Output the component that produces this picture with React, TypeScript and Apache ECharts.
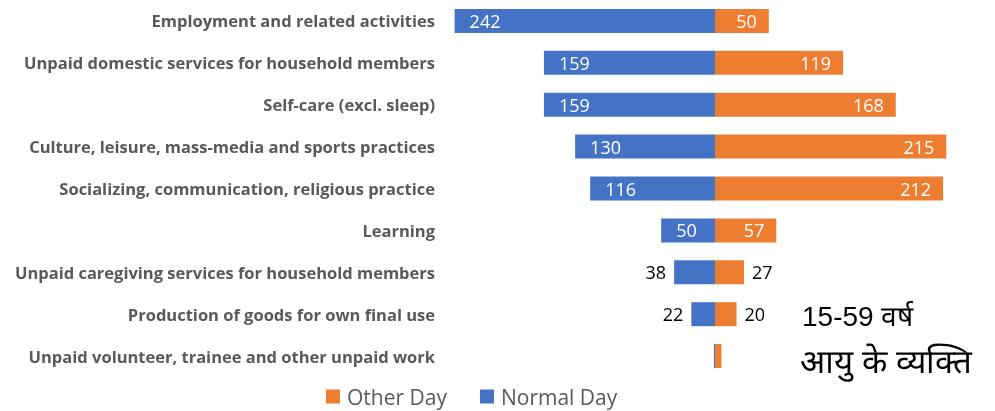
import React, { useEffect, useRef } from "react";
import * as echarts from "echarts";

const categories = [
  "Employment and related activities",
  "Unpaid domestic services for household members",
  "Self-care (excl. sleep)",
  "Culture, leisure, mass-media and sports practices",
  "Socializing, communication, religious practice",
  "Learning",
  "Unpaid caregiving services for household members",
  "Production of goods for own final use",
  "Unpaid volunteer, trainee and other unpaid work",
];
const normalDay = [242, 159, 159, 130, 116, 50, 38, 22, 1];
const otherDay = [50, 119, 168, 215, 212, 57, 27, 20, 6];
const annotationLines = ["15-59 वर्ष", "आयु के व्यक्ति"];

const BLUE = "#4472C4";
const ORANGE = "#ED7D31";
const FONT = "'Open Sans', 'Noto Sans', sans-serif";

export default function App() {
  const ref = useRef<HTMLDivElement>(null);
  useEffect(() => {
    if (!ref.current) return;
    const chart = echarts.init(ref.current, null, { renderer: "svg" });
    const mkData = (vals: number[], neg: boolean) =>
      vals.map((v) => {
        const small = v < 45;
        const hidden = v < 10;
        return {
          value: neg ? -v : v,
          label: {
            show: !hidden,
            position: small ? (neg ? "left" : "right") : neg ? "insideLeft" : "insideRight",
            distance: small ? 8 : neg ? 15 : 12,
            color: small ? "#000000" : "#ffffff",
          },
        };
      });
    chart.setOption({
      animation: false,
      textStyle: { fontFamily: FONT },
      grid: { left: 446, right: 11, top: -2, bottom: 34, containLabel: false },
      legend: {
        data: ["Other Day", "Normal Day"],
        left: 326,
        top: 386,
        padding: 0,
        itemWidth: 14,
        itemHeight: 14,
        itemGap: 33,
        icon: "rect",
        textStyle: { color: "#595959", fontSize: 21, fontFamily: FONT, padding: [0, 0, 0, 2] },
      },
      xAxis: {
        type: "value",
        min: -250,
        max: 250,
        show: false,
      },
      yAxis: {
        type: "category",
        data: categories,
        inverse: true,
        axisLine: { show: false },
        axisTick: { show: false },
        axisLabel: {
          color: "#595959",
          fontWeight: "bold",
          fontSize: 16.5,
          fontFamily: FONT,
          margin: 11,
        },
      },
      series: [
        {
          name: "Normal Day",
          type: "bar",
          stack: "total",
          barWidth: 24,
          itemStyle: { color: BLUE },
          label: {
            fontSize: 18,
            fontFamily: FONT,
            formatter: (p: any) => String(Math.abs(p.value)),
          },
          data: mkData(normalDay, true),
        },
        {
          name: "Other Day",
          type: "bar",
          stack: "total",
          barWidth: 24,
          itemStyle: { color: ORANGE },
          label: {
            fontSize: 18,
            fontFamily: FONT,
            formatter: (p: any) => String(Math.abs(p.value)),
          },
          data: mkData(otherDay, false),
        },
      ],
      graphic: [
        {
          type: "text",
          left: 802,
          top: 302,
          style: {
            text: annotationLines[0],
            fill: "#000000",
            font: `28px 'Liberation Sans', Arial, sans-serif`,
          },
        },
        {
          type: "text",
          left: 800,
          top: 345,
          style: {
            text: annotationLines[1],
            fill: "#000000",
            font: `33px 'Liberation Sans', Arial, sans-serif`,
          },
        },
      ],
    });
    return () => chart.dispose();
  }, []);
  return (
    <div
      ref={ref}
      style={{ position: "fixed", left: 0, top: 0, width: 995, height: 411 }}
    />
  );
}
